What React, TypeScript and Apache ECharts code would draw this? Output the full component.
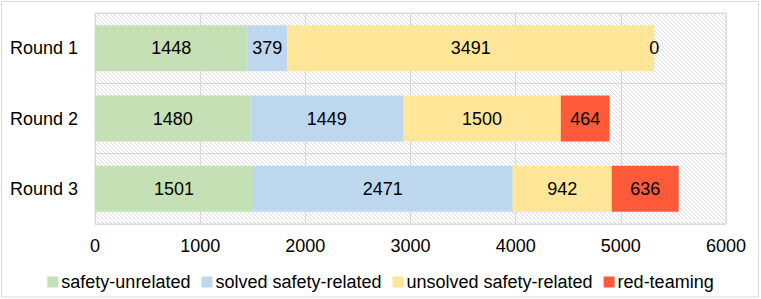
import React, { useEffect, useRef } from "react";
import * as echarts from "echarts";

const categories = ["Round 1", "Round 2", "Round 3"];
const seriesNames = [
  "safety-unrelated",
  "solved safety-related",
  "unsolved safety-related",
  "red-teaming",
];
const safetyUnrelated = [1448, 1480, 1501];
const solvedSafety = [379, 1449, 2471];
const unsolvedSafety = [3491, 1500, 942];
const redTeaming = [0, 464, 636];
const seriesColors = ["#C5E0B4", "#BDD7EE", "#FFE699", "#FF5B3B"];
const xTicks = { min: 0, max: 6000, interval: 1000 };

function makeHatch() {
  const c = document.createElement("canvas");
  c.width = 4;
  c.height = 4;
  const ctx = c.getContext("2d");
  if (ctx) {
    ctx.fillStyle = "#ffffff";
    ctx.fillRect(0, 0, 4, 4);
    ctx.fillStyle = "#dedede";
    for (let i = 0; i < 4; i++) ctx.fillRect(i, i, 1, 1);
  }
  return c;
}

export default function App() {
  const ref = useRef<HTMLDivElement>(null);
  useEffect(() => {
    if (!ref.current) return;
    const chart = echarts.init(ref.current, null, { renderer: "svg" });
    const hatch = makeHatch();
    const font = "Liberation Sans, Arial, sans-serif";
    const data = [safetyUnrelated, solvedSafety, unsolvedSafety, redTeaming];
    chart.setOption({
      animation: false,
      textStyle: { fontFamily: font },
      graphic: [
        {
          type: "rect",
          shape: { x: 1.5, y: 1.5, width: 757, height: 295.5 },
          style: { fill: "none", stroke: "#d9d9d9", lineWidth: 1 },
          silent: true,
        },
      ],
      grid: {
        left: 95,
        right: 35,
        top: 13,
        bottom: 75,
        show: true,
        borderColor: "#d9d9d9",
        borderWidth: 1,
        backgroundColor: {
          image: hatch,
          repeat: "repeat",
          imageWidth: 4,
          imageHeight: 4,
        } as any,
      },
      legend: {
        left: "center",
        top: 268,
        itemWidth: 11,
        itemHeight: 11,
        itemGap: 11,
        icon: "rect",
        textStyle: {
          fontSize: 18,
          color: "#000",
          fontFamily: font,
          padding: [0, 0, 0, -2],
        },
        data: seriesNames,
      },
      xAxis: {
        type: "value",
        min: xTicks.min,
        max: xTicks.max,
        interval: xTicks.interval,
        axisLine: { show: false },
        axisTick: { show: false },
        axisLabel: {
          fontSize: 18,
          color: "#000",
          margin: 13,
          fontFamily: font,
          formatter: (v: number) => String(v),
        },
        splitLine: { show: true, lineStyle: { color: "#d9d9d9", width: 1 } },
      },
      yAxis: {
        type: "category",
        inverse: true,
        data: categories,
        axisLine: { show: false },
        axisTick: { show: false },
        axisLabel: { fontSize: 18, color: "#000", margin: 17, fontFamily: font },
        splitLine: { show: true, lineStyle: { color: "#d9d9d9", width: 1 } },
      },
      series: seriesNames.map((name, i) => ({
        name,
        type: "bar",
        stack: "total",
        barWidth: 46,
        itemStyle: { color: seriesColors[i] },
        label: {
          show: true,
          position: "inside",
          fontSize: 18,
          color: "#000",
          fontFamily: font,
        },
        emphasis: { disabled: true },
        data: data[i],
      })),
    });
    return () => chart.dispose();
  }, []);
  return (
    <div
      ref={ref}
      style={{ position: "absolute", left: 0, top: 0, width: 761, height: 299, background: "#fff" }}
    />
  );
}
